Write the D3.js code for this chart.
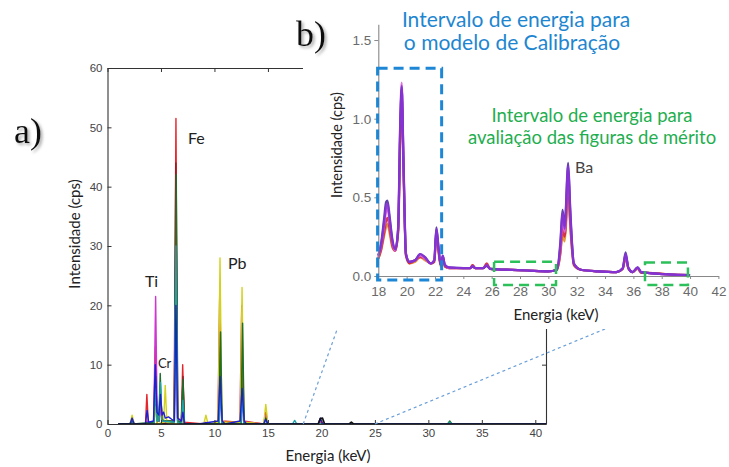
<!DOCTYPE html>
<html><head><meta charset="utf-8">
<script src="https://cdn.jsdelivr.net/npm/d3@7"></script>
<style>
html,body{margin:0;padding:0;background:#fff;}
svg{display:block;}
</style></head>
<body>
<svg id="chart" width="729" height="467"></svg>
<script>
// ---------- full-range XRF spectra (keV, cps) ----------
const mainXTicks = [0, 5, 10, 15, 20, 25, 30, 35, 40];
const mainYTicks = [0, 10, 20, 30, 40, 50, 60];

const redSpectrum = [[1,0],[2.1,0],[2.3,0.8],[2.5,0],[3.55,0],[3.68,5],[3.82,0],[4.32,0.5],[4.48,13],[4.62,1],[4.85,0.5],[4.98,4],[5.12,0.5],[6.22,0.5],[6.4,51.5],[6.56,1],[6.9,0.5],[7.03,10],[7.18,0.3],[9.0,0],[9.2,0.3],[9.4,0],[10.32,0],[10.5,23],[10.68,0.5],[12.38,0.3],[12.55,20],[12.72,0.5],[14.6,0],[14.8,2],[15.0,0],[19.8,0],[20.0,0.3],[20.2,0],[41,0]];
const magentaSpectrum = [[1,0],[3.55,0],[3.7,0.5],[3.85,0],[4.33,0.5],[4.5,21.5],[4.65,0.8],[4.82,0.5],[4.95,3],[5.1,0.5],[6.25,0.3],[6.41,35],[6.57,0.5],[6.9,0.3],[7.05,6],[7.2,0],[10.38,0],[10.55,9],[10.7,0],[12.45,0.3],[12.62,11.5],[12.78,0.3],[14.62,0],[14.8,1.5],[14.98,0],[19.75,0],[19.95,0.5],[20.15,0],[41,0]];
const darkRedSpectrum = [[1,0],[4.35,0],[4.5,5],[4.65,0],[6.24,0.3],[6.39,44],[6.55,0.5],[6.92,0],[7.06,8],[7.2,0],[10.38,0],[10.53,13],[10.68,0],[12.45,0],[12.6,10],[12.75,0],[41,0]];
const yellowSpectrum = [[1,0],[2.1,0],[2.3,1.5],[2.5,0],[4.35,0],[4.5,3],[4.65,0],[5.25,0.3],[5.4,6.5],[5.55,0.3],[6.25,0],[6.4,25],[6.55,0],[6.92,0],[7.06,3],[7.2,0],[9.0,0],[9.2,1.5],[9.4,0],[10.35,0.3],[10.52,28],[10.7,0.3],[12.42,0.3],[12.58,23],[12.75,0.3],[14.6,0],[14.8,3.3],[15.0,0],[41,0]];
const darkGreenSpectrum = [[1,0],[2.15,0],[2.3,0.5],[2.45,0],[4.35,0.3],[4.5,8],[4.65,0.5],[4.8,0.5],[4.93,8.5],[5.08,0.8],[5.3,0.5],[6.24,0.5],[6.42,42],[6.58,0.5],[6.9,0.3],[7.05,7.5],[7.2,0],[10.4,0],[10.57,15.5],[10.72,0],[12.48,0],[12.63,17],[12.78,0],[14.65,0],[14.8,1],[14.95,0],[31.8,0],[32.0,0.5],[32.2,0],[41,0]];
const cyanSpectrum = [[1,0],[4.35,0],[4.5,6],[4.65,0.5],[4.8,0.5],[4.95,7],[5.1,0.5],[6.25,0.3],[6.4,30],[6.55,0.3],[6.92,0],[7.05,4],[7.2,0],[10.4,0],[10.55,5],[10.7,0],[12.45,0],[12.6,4],[12.75,0],[17.3,0],[17.5,0.6],[17.7,0],[31.8,0],[32.0,0.3],[32.2,0],[41,0]];
const blueSpectrum = [[1,0],[2.1,0],[2.3,1],[2.5,0],[3.55,0],[3.7,2.3],[3.85,0.3],[4.3,0.5],[4.47,10],[4.62,2],[4.8,1.5],[4.95,5],[5.1,1.5],[5.25,2],[5.4,1],[5.7,1.2],[6.0,0.8],[6.25,0.5],[6.4,20],[6.55,1],[6.9,0.5],[7.05,2],[7.2,0],[8.5,0],[10.35,0.5],[10.52,8],[10.72,0.5],[11.0,0],[12.4,0.5],[12.58,6],[12.78,0.5],[13.0,0],[14.6,0],[14.8,0.8],[15.0,0],[15.5,0],[19.7,0],[19.9,1],[20.1,0],[41,0]];
const blackSpectrum = [[1,0],[19.7,0],[19.9,0.9],[20.1,1.0],[20.3,0],[22.6,0],[22.8,0.3],[23.0,0],[41,0]];

// element lines annotated on the full spectrum: [label, keV, cps]
const elementLabels = [["Fe", 7.52, 47.2], ["Ti", 3.5, 23.1], ["Pb", 11.26, 26.1], ["Cr", 4.72, 9.44]];

// ---------- zoomed 18–42 keV region ----------
const insetXTicks = [18, 20, 22, 24, 26, 28, 30, 32, 34, 36, 38, 40, 42];
const insetYTicks = [0.0, 0.5, 1.0, 1.5];
const insetEnergy = [18.0,18.2,18.4,18.55,18.65,18.8,19.0,19.2,19.4,19.55,
  19.65,19.78,19.95,20.2,20.6,20.95,21.3,21.7,21.95,22.1,
  22.25,22.4,22.55,22.7,23.0,24.0,24.5,24.65,24.85,25.4,
  25.65,25.9,27.0,28.5,30.0,30.6,30.85,31.0,31.15,31.4,
  31.55,31.8,32.3,33.5,34.8,35.25,35.45,35.65,35.95,36.3,
  36.55,37.0,38.5,40.0];
const orangeInset = [.11,.16,.25,.31,.33,.27,.18,.16,.27,.85,
  1.10,.65,.13,.08,.09,.12,.10,.08,.09,.26,
  .15,.06,.11,.06,.05,.05,.05,.07,.05,.05,
  .07,.045,.04,.035,.03,.04,.14,.26,.22,.50,
  .30,.07,.04,.03,.025,.045,.11,.045,.025,.045,
  .02,.02,.01,.005];
const redInset = [.11,.17,.27,.35,.37,.30,.19,.16,.28,.90,
  1.15,.68,.13,.08,.10,.12,.11,.08,.09,.27,
  .16,.07,.11,.06,.05,.05,.05,.07,.05,.05,
  .08,.045,.04,.035,.03,.04,.15,.30,.25,.56,
  .33,.07,.04,.03,.025,.045,.12,.05,.025,.05,
  .02,.02,.01,.005];
const magentaInset = [.12,.19,.31,.41,.43,.34,.21,.16,.32,1.0,
  1.23,.75,.15,.09,.10,.13,.11,.08,.10,.29,
  .17,.07,.12,.07,.05,.05,.05,.06,.05,.05,
  .065,.045,.04,.035,.03,.04,.18,.36,.28,.66,
  .38,.08,.04,.03,.025,.05,.13,.05,.025,.05,
  .025,.02,.01,.005];
const violetInset = [.13,.21,.36,.47,.48,.38,.23,.17,.30,.98,
  1.20,.72,.14,.09,.10,.14,.12,.08,.10,.31,
  .18,.07,.13,.07,.055,.05,.05,.06,.05,.05,
  .065,.045,.04,.035,.03,.04,.22,.42,.32,.72,
  .42,.08,.04,.03,.025,.05,.15,.05,.025,.055,
  .025,.02,.01,.005];
const purpleInset = [.13,.20,.33,.44,.46,.36,.22,.17,.30,.95,
  1.21,.70,.14,.09,.10,.14,.12,.08,.10,.30,
  .18,.07,.13,.07,.055,.05,.05,.065,.05,.05,
  .07,.045,.04,.035,.03,.04,.20,.40,.30,.70,
  .40,.08,.04,.03,.025,.05,.14,.05,.025,.055,
  .025,.02,.01,.005];

// energy windows [keV from, keV to, cps low, cps high]
const calibrationWindow = [17.95, 22.47, -0.025, 1.32];
const meritWindows = [[26.17, 30.54, -0.057, 0.09], [36.82, 39.85, -0.057, 0.086]];
// zoom guide lines on the full spectrum: [keV at baseline, keV at top, cps at top]
const zoomGuides = [[18.3, 21.6, 16.6], [25.0, 47.3, 16.6]];

// ---------- drawing ----------
const svg = d3.select("#chart");
const defs = svg.append("defs");
const sh = defs.append("filter").attr("id", "shadow").attr("x", "-20%").attr("y", "-20%").attr("width", "150%").attr("height", "150%");
sh.append("feDropShadow").attr("dx", 2).attr("dy", 2).attr("stdDeviation", 1.6).attr("flood-color", "#888").attr("flood-opacity", 0.7);
const soft = defs.append("filter").attr("id", "soft");
soft.append("feGaussianBlur").attr("stdDeviation", 0.35);

const LABEL_FONT = "Lato, 'Open Sans', sans-serif";
const TICK_FONT = "'Liberation Sans', Arial, sans-serif";

// main panel
const x = d3.scaleLinear().domain([0, 41]).range([107.5, 546]);
const y = d3.scaleLinear().domain([0, 60]).range([424, 68]);
const main = svg.append("g");

const mainLine = d3.line().x(d => x(d[0])).y(d => y(d[1]));
const mainSeries = [
  [redSpectrum, "#e4262c"],
  [magentaSpectrum, "#cf35d0"],
  [darkRedSpectrum, "#8e1d22"],
  [yellowSpectrum, "#d2d21e"],
  [darkGreenSpectrum, "#1e6e2c"],
  [cyanSpectrum, "#1ba3a8"],
  [blueSpectrum, "#1f1fd0"],
  [blackSpectrum, "#111"]
];
main.append("g").selectAll("path").data(mainSeries).join("path")
  .attr("d", d => mainLine(d[0]))
  .attr("fill", "none").attr("stroke", d => d[1])
  .attr("stroke-width", (d, i) => i === mainSeries.length - 1 ? 1.7 : 1.4)
  .attr("stroke-linejoin", "round");

function styleAxis(g, color, textColor, font, size) {
  g.select(".domain").attr("stroke", color).attr("stroke-width", 1.1);
  g.selectAll(".tick line").attr("stroke", color).attr("stroke-width", 1);
  g.selectAll(".tick text").attr("fill", textColor)
    .style("font-family", font).style("font-size", size + "px");
}
const gx = main.append("g").attr("transform", "translate(0,424)")
  .call(d3.axisBottom(x).tickValues(mainXTicks).tickSizeInner(-4).tickSizeOuter(0).tickPadding(5));
styleAxis(gx, "#333", "#444", TICK_FONT, 11.5);
const gy = main.append("g").attr("transform", "translate(107.5,0)")
  .call(d3.axisLeft(y).tickValues(mainYTicks).tickSizeInner(-4).tickSizeOuter(0).tickPadding(5));
styleAxis(gy, "#333", "#444", TICK_FONT, 11.5);
const gt = main.append("g").attr("transform", "translate(0,68)")
  .call(d3.axisTop(x).tickValues(mainXTicks).tickSizeInner(-4).tickSizeOuter(0).tickFormat(""));
styleAxis(gt, "#333", "#444", TICK_FONT, 11.5);
const gr = main.append("g").attr("transform", "translate(546,0)")
  .call(d3.axisRight(y).tickValues(mainYTicks).tickSizeInner(-4).tickSizeOuter(0).tickFormat(""));
styleAxis(gr, "#333", "#444", TICK_FONT, 11.5);

main.selectAll("text.el").data(elementLabels).join("text").attr("class", "el")
  .attr("x", d => x(d[1])).attr("y", d => y(d[2]))
  .style("font-family", LABEL_FONT).style("font-size", d => d[0] === "Cr" ? "13px" : "16px")
  .attr("fill", "#222").text(d => d[0]);

main.append("text").attr("x", 328).attr("y", 461).attr("text-anchor", "middle")
  .style("font-family", LABEL_FONT).style("font-size", "15px").attr("fill", "#222").text("Energia (keV)");
main.append("text").attr("transform", "translate(80,234) rotate(-90)").attr("text-anchor", "middle")
  .style("font-family", LABEL_FONT).style("font-size", "15px").attr("fill", "#222").text("Intensidade (cps)");

// guide lines toward the zoomed panel
main.selectAll("line.guide").data(zoomGuides).join("line").attr("class", "guide")
  .attr("x1", d => x(d[0])).attr("y1", y(0)).attr("x2", d => x(d[1])).attr("y2", d => y(d[2]))
  .attr("stroke", "#6a9fd8").attr("stroke-width", 1.2).attr("stroke-dasharray", "3,3");

// zoomed panel
const inset = svg.append("g");
inset.append("rect").attr("x", 303).attr("y", 0).attr("width", 426).attr("height", 329).attr("fill", "#fff");

const ix = d3.scaleLinear().domain([18, 42]).range([378.3, 718.4]);
const iy = d3.scaleLinear().domain([0, 1.6]).range([276, 24.3]);

const insetSeries = [
  [orangeInset, "#e08c2a"],
  [redInset, "#cf2640"],
  [magentaInset, "#dd66dd"],
  [violetInset, "#4f2ca0"],
  [purpleInset, "#8a34d8"]
];
const insetLine = d3.line().x((d, i) => ix(insetEnergy[i])).y(d => iy(d)).curve(d3.curveMonotoneX);
inset.append("g").attr("filter", "url(#soft)").selectAll("path").data(insetSeries).join("path")
  .attr("d", d => insetLine(d[0]))
  .attr("fill", "none").attr("stroke", d => d[1]).attr("stroke-width", 2.2)
  .attr("stroke-linejoin", "round").attr("opacity", 0.9);

const ixa = inset.append("g").attr("transform", "translate(0,276)")
  .call(d3.axisBottom(ix).tickValues(insetXTicks).tickSizeInner(3).tickSizeOuter(0).tickPadding(7).tickFormat(d3.format("d")));
styleAxis(ixa, "#888", "#6a6a6a", TICK_FONT, 13.5);
const iya = inset.append("g").attr("transform", "translate(378.3,0)")
  .call(d3.axisLeft(iy).tickValues(insetYTicks).tickSizeInner(4).tickSizeOuter(0).tickPadding(3).tickFormat(d3.format(".1f")));
styleAxis(iya, "#888", "#6a6a6a", TICK_FONT, 13.5);

// energy windows
inset.append("rect")
  .attr("x", ix(calibrationWindow[0])).attr("y", iy(calibrationWindow[3]))
  .attr("width", ix(calibrationWindow[1]) - ix(calibrationWindow[0]))
  .attr("height", iy(calibrationWindow[2]) - iy(calibrationWindow[3]))
  .attr("fill", "none").attr("stroke", "#1d87d6").attr("stroke-width", 3).attr("stroke-dasharray", "10,6");
inset.selectAll("rect.merit").data(meritWindows).join("rect").attr("class", "merit")
  .attr("x", d => ix(d[0])).attr("y", d => iy(d[3]))
  .attr("width", d => ix(d[1]) - ix(d[0])).attr("height", d => iy(d[2]) - iy(d[3]))
  .attr("fill", "none").attr("stroke", "#2cc05a").attr("stroke-width", 2.5).attr("stroke-dasharray", "10,6");

inset.append("text").attr("x", ix(31.88)).attr("y", iy(0.655))
  .style("font-family", LABEL_FONT).style("font-size", "16px").attr("fill", "#444").text("Ba");

inset.append("text").attr("x", 556).attr("y", 320).attr("text-anchor", "middle")
  .style("font-family", LABEL_FONT).style("font-size", "15px").attr("fill", "#222").text("Energia (keV)");
inset.append("text").attr("transform", "translate(342,145) rotate(-90)").attr("text-anchor", "middle")
  .style("font-family", LABEL_FONT).style("font-size", "14.5px").attr("fill", "#222").text("Intensidade (cps)");

const blueText = inset.append("text").attr("text-anchor", "middle")
  .style("font-family", LABEL_FONT).style("font-size", "21px").attr("fill", "#1e86d0");
blueText.append("tspan").attr("x", 516).attr("y", 27).text("Intervalo de energia para");
blueText.append("tspan").attr("x", 512).attr("y", 50).text("o modelo de Calibração");
const greenText = inset.append("text").attr("text-anchor", "middle")
  .style("font-family", LABEL_FONT).style("font-size", "18.5px").attr("fill", "#1fae50");
greenText.append("tspan").attr("x", 592).attr("y", 122).text("Intervalo de energia para");
greenText.append("tspan").attr("x", 592).attr("y", 144).text("avaliação das figuras de mérito");

// panel letters
svg.append("text").attr("x", 14).attr("y", 143).attr("filter", "url(#shadow)")
  .style("font-family", "'Liberation Serif', 'Times New Roman', serif").style("font-size", "36px")
  .attr("fill", "#111").text("a)");
svg.append("text").attr("x", 296).attr("y", 46).attr("filter", "url(#shadow)")
  .style("font-family", "'Liberation Serif', 'Times New Roman', serif").style("font-size", "36px")
  .attr("fill", "#111").text("b)");
</script>
</body></html>
